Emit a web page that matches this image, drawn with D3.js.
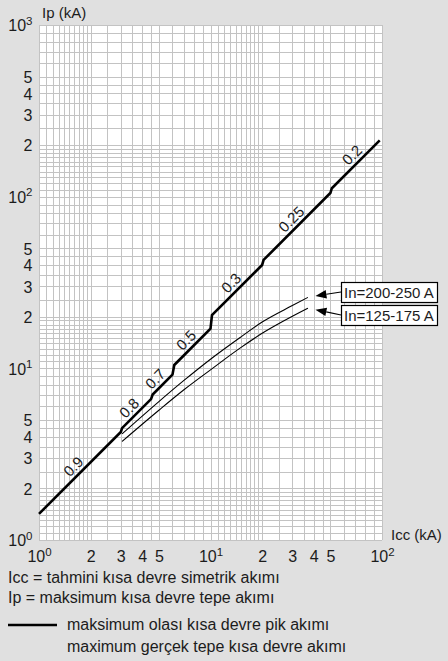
<!DOCTYPE html>
<html>
<head>
<meta charset="utf-8">
<script src="https://cdn.jsdelivr.net/npm/d3@7"></script>
<style>
  html, body { margin: 0; padding: 0; background: #e0e0e0; }
  svg { display: block; }
  text { font-family: "Liberation Sans", Arial, Helvetica, sans-serif; fill: #1c1c1c; }
</style>
</head>
<body>
<svg id="chart" width="448" height="661"></svg>
<script>
// ---------------- data ----------------
// x axis: Icc (kA), y axis: Ip (kA), both logarithmic
const xTickValues = [1, 2, 3, 4, 5, 10, 20, 30, 40, 50, 100];
const xTickLabels = [["10", "0"], "2", "3", "4", "5", ["10", "1"], "2", "3", "4", "5", ["10", "2"]];
const yTickValues = [1, 2, 3, 4, 5, 10, 20, 30, 40, 50, 100, 200, 300, 400, 500, 1000];
const yTickLabels = [["10", "0"], "2", "3", "4", "5", ["10", "1"], "2", "3", "4", "5", ["10", "2"], "2", "3", "4", "5", ["10", "3"]];
// log-paper subdivisions within one decade
const gridSteps = [1, 1.1, 1.2, 1.3, 1.4, 1.5, 1.6, 1.7, 1.8, 1.9, 2, 2.5, 3, 3.5, 4, 4.5, 5, 6, 7, 8, 9];
const gridDecades = [1, 10, 100];

// maximum prospective peak current (thick stepped line)
const iccThick = [1, 3, 3.05, 4.5, 4.6, 6, 6.15, 10, 10.2, 20, 20.4, 50, 51, 97];
const ipThick  = [1.42, 4.26, 4.48, 6.62, 7.04, 9.18, 10.46, 17, 20.4, 40, 42.8, 105, 112, 213];
// power factor labels along the thick line
const pfLabels = ["0.9", "0.8", "0.7", "0.5", "0.3", "0.25", "0.2"];
const pfLabelIcc = [1.73, 3.66, 5.2, 7.87, 14.4, 32.3, 73];

// limited peak current curves (thin lines)
const iccUpper = [3.05, 5, 7, 10, 15, 20, 30, 37];
const ipUpper  = [4.15, 6.4, 8.5, 11.3, 15.2, 18.6, 23.2, 25.9];
const iccLower = [3.05, 5, 7, 10, 15, 20, 30, 37];
const ipLower  = [3.75, 5.7, 7.5, 9.8, 13.2, 16.0, 20.1, 22.4];
const curveNames = ["In=200-250 A", "In=125-175 A"];

const xTitle = "Icc (kA)";
const yTitle = "Ip (kA)";
const noteLines = ["Icc = tahmini kısa devre simetrik akımı", "Ip = maksimum kısa devre tepe akımı"];
const legendLines = ["maksimum olası kısa devre pik akımı", "maximum gerçek tepe kısa devre akımı"];

// ---------------- layout ----------------
const svg = d3.select("#chart");
const plot = { left: 39, right: 382, top: 25, bottom: 540 };
const x = d3.scaleLog().domain([1, 100]).range([plot.left, plot.right]);
const y = d3.scaleLog().domain([1, 1000]).range([plot.bottom, plot.top]);
const FS = 15, TFS = 16, NFS = 16;

svg.append("rect").attr("width", 448).attr("height", 661).attr("fill", "#e0e0e0");
svg.append("rect")
  .attr("x", plot.left).attr("y", plot.top)
  .attr("width", plot.right - plot.left).attr("height", plot.bottom - plot.top)
  .attr("fill", "#ffffff");

// grid
const xGrid = [], yGrid = [];
gridDecades.forEach(d => gridSteps.forEach(s => {
  const v = +(d * s).toPrecision(4);
  if (v >= 1 && v <= 100) xGrid.push(v);
  if (v >= 1 && v <= 1000) yGrid.push(v);
}));
xGrid.push(100); yGrid.push(1000);
const g = svg.append("g").attr("stroke", "#c3c3c3").attr("stroke-width", 1).attr("shape-rendering", "crispEdges");
g.selectAll("line.vx").data(xGrid).join("line").attr("class", "vx")
  .attr("x1", d => Math.round(x(d)) + 0.5).attr("x2", d => Math.round(x(d)) + 0.5)
  .attr("y1", plot.top).attr("y2", plot.bottom);
g.selectAll("line.hy").data(yGrid).join("line").attr("class", "hy")
  .attr("y1", d => Math.round(y(d)) + 0.5).attr("y2", d => Math.round(y(d)) + 0.5)
  .attr("x1", plot.left).attr("x2", plot.right);

// axes (labels only, with superscripts)
function setLabel(sel, lab) {
  sel.text(null);
  if (Array.isArray(lab)) {
    sel.append("tspan").text(lab[0]);
    sel.append("tspan").attr("font-size", 11.5).attr("dy", -6.5).text(lab[1]);
  } else {
    sel.text(lab);
  }
}
const xAxis = d3.axisBottom(x).tickValues(xTickValues).tickSize(0).tickPadding(0).tickFormat(() => "");
const xg = svg.append("g").attr("transform", `translate(0,${plot.bottom})`).call(xAxis);
xg.select(".domain").remove();
xg.selectAll(".tick text").each(function(d, i) {
  const t = d3.select(this).attr("y", 22).attr("dy", null)
    .attr("font-size", TFS).attr("fill", "#1c1c1c").attr("font-family", null);
  setLabel(t, xTickLabels[i]);
});

const yAxis = d3.axisLeft(y).tickValues(yTickValues).tickSize(0).tickPadding(0).tickFormat(() => "");
const yg = svg.append("g").attr("transform", `translate(${plot.left},0)`).call(yAxis);
yg.select(".domain").remove();
yg.selectAll(".tick text").each(function(d, i) {
  const t = d3.select(this).attr("x", -6.5).attr("dy", "0.36em")
    .attr("font-size", TFS).attr("fill", "#1c1c1c").attr("font-family", null).attr("text-anchor", "end");
  setLabel(t, yTickLabels[i]);
});

svg.append("text").attr("x", 42).attr("y", 18).attr("font-size", FS).text(yTitle);
svg.append("text").attr("x", 391).attr("y", 540).attr("font-size", FS).text(xTitle);

// thick stepped line
const line = d3.line().x(d => x(d[0])).y(d => y(d[1]));
svg.append("path")
  .datum(iccThick.map((v, i) => [v, ipThick[i]]))
  .attr("d", line).attr("fill", "none").attr("stroke", "#000")
  .attr("stroke-width", 2.6).attr("stroke-linejoin", "miter");

// power factor labels
function ipOnThick(icc) {
  for (let i = 0; i < iccThick.length - 1; i++) {
    const a = iccThick[i], b = iccThick[i + 1];
    if (icc >= a && icc <= b && b > a) {
      const t = Math.log(icc / a) / Math.log(b / a);
      return Math.exp(Math.log(ipThick[i]) + t * Math.log(ipThick[i + 1] / ipThick[i]));
    }
  }
  return null;
}
pfLabels.forEach((lab, i) => {
  const px = x(pfLabelIcc[i]), py = y(ipOnThick(pfLabelIcc[i]));
  svg.append("text")
    .attr("transform", `translate(${px},${py}) rotate(-45)`)
    .attr("x", 0).attr("y", -4).attr("text-anchor", "middle")
    .attr("font-size", FS).text(lab);
});

// thin limited-peak curves
const thin = d3.line().x(d => x(d[0])).y(d => y(d[1])).curve(d3.curveMonotoneX);
const thinSets = [
  iccUpper.map((v, i) => [v, ipUpper[i]]),
  iccLower.map((v, i) => [v, ipLower[i]])
];
thinSets.forEach(ds => {
  svg.append("path").datum(ds).attr("d", thin)
    .attr("fill", "none").attr("stroke", "#000").attr("stroke-width", 1.1);
});

// callouts
const boxes = [{ top: 282, tipDy: -1.5 }, { top: 305, tipDy: 1.5 }];
boxes.forEach((b, i) => {
  const ds = thinSets[i], end = ds[ds.length - 1];
  const tipX = x(end[0]) + 7.5, tipY = y(end[1]) + b.tipDy;
  const bx = 341, bw = 96, bh = 20;
  const sx = bx, sy = b.top + bh / 2;
  const ang = Math.atan2(sy - tipY, sx - tipX);
  const L = 11, Wd = 4.2;
  const baseX = tipX + L * Math.cos(ang), baseY = tipY + L * Math.sin(ang);
  svg.append("line").attr("x1", sx).attr("y1", sy).attr("x2", baseX).attr("y2", baseY)
    .attr("stroke", "#000").attr("stroke-width", 1.2);
  const px = -Math.sin(ang), py = Math.cos(ang);
  svg.append("path")
    .attr("d", `M${tipX},${tipY}L${baseX + px * Wd},${baseY + py * Wd}L${baseX - px * Wd},${baseY - py * Wd}Z`)
    .attr("fill", "#000");
  svg.append("rect").attr("x", bx + 0.5).attr("y", b.top + 0.5).attr("width", bw).attr("height", bh)
    .attr("fill", "#fff").attr("stroke", "#000").attr("stroke-width", 1.2);
  svg.append("text").attr("x", bx + 3).attr("y", b.top + 15.5).attr("font-size", FS).text(curveNames[i]);
});

// notes and legend
svg.append("text").attr("x", 8).attr("y", 582.5).attr("font-size", NFS).text(noteLines[0]);
svg.append("text").attr("x", 8).attr("y", 602.5).attr("font-size", NFS).text(noteLines[1]);
svg.append("line").attr("x1", 8).attr("x2", 57).attr("y1", 625).attr("y2", 625)
  .attr("stroke", "#000").attr("stroke-width", 2.6);
svg.append("text").attr("x", 67).attr("y", 629.5).attr("font-size", NFS).text(legendLines[0]);
svg.append("text").attr("x", 67).attr("y", 652).attr("font-size", NFS).text(legendLines[1]);
</script>
</body>
</html>
